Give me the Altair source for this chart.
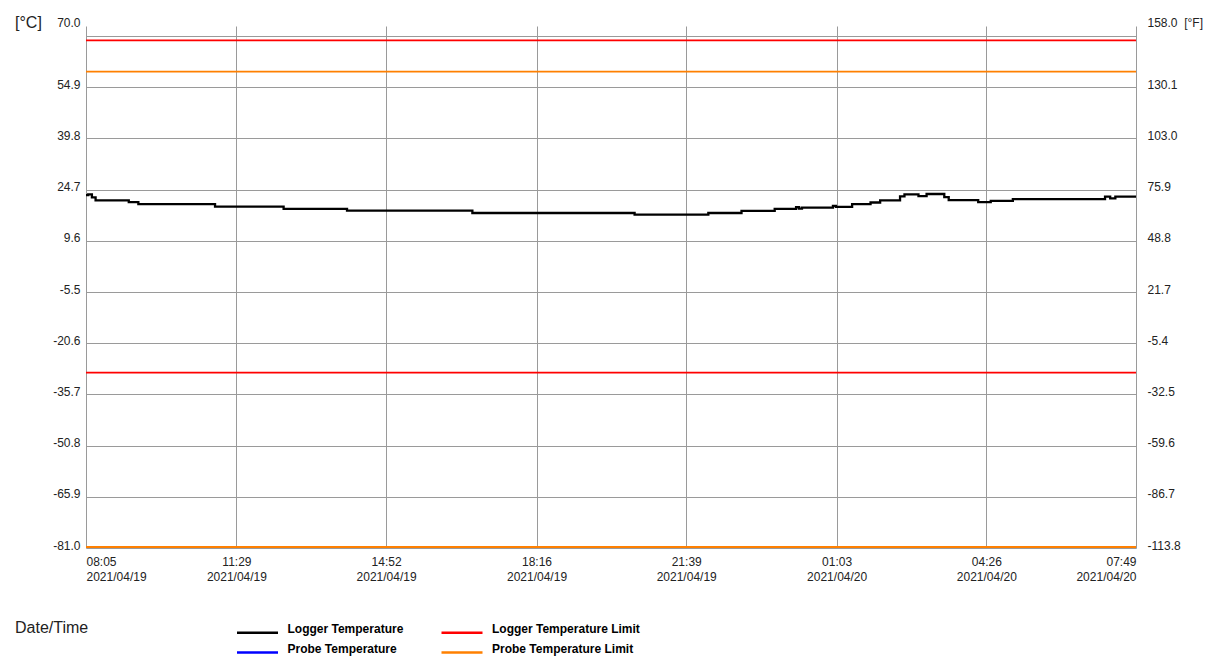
import json
import altair as alt
import pandas as pd

# ---------------- data ----------------
times = [
    "2021-04-19T08:05", "2021-04-19T08:08", "2021-04-19T08:13", "2021-04-19T08:18",
    "2021-04-19T09:03", "2021-04-19T09:16", "2021-04-19T11:00", "2021-04-19T12:33",
    "2021-04-19T13:59", "2021-04-19T16:49", "2021-04-19T20:29", "2021-04-19T22:09",
    "2021-04-19T22:54", "2021-04-19T23:39", "2021-04-20T00:08", "2021-04-20T00:12",
    "2021-04-20T00:16", "2021-04-20T00:58", "2021-04-20T01:02", "2021-04-20T01:24",
    "2021-04-20T01:49", "2021-04-20T02:02", "2021-04-20T02:29", "2021-04-20T02:35",
    "2021-04-20T02:54", "2021-04-20T03:05", "2021-04-20T03:29", "2021-04-20T03:35",
    "2021-04-20T04:15", "2021-04-20T04:32", "2021-04-20T05:02", "2021-04-20T07:07",
    "2021-04-20T07:14", "2021-04-20T07:21", "2021-04-20T07:49",
]
temps = [
    23.1, 23.3, 22.4, 21.5, 21.0, 20.4, 19.7, 19.0, 18.5, 17.8, 17.3, 17.8,
    18.4, 19.0, 19.5, 19.1, 19.4, 19.9, 19.6, 20.4, 20.9, 21.5, 22.7, 23.3,
    22.8, 23.4, 22.5, 21.6, 21.0, 21.4, 21.9, 22.6, 22.1, 22.6, 22.6,
]

limit_series = ["Logger Temperature Limit", "Logger Temperature Limit",
                "Probe Temperature Limit", "Probe Temperature Limit"]
limit_values = [68.7, -29.3, 59.5, -80.7]

# legend is laid out column by column
series_names = ["Logger Temperature", "Probe Temperature",
                "Logger Temperature Limit", "Probe Temperature Limit"]
series_colors = ["#000000", "#0000ff", "#ff0000", "#ff8000"]

x_ticks = ["2021-04-19T08:05", "2021-04-19T11:29", "2021-04-19T14:52", "2021-04-19T18:16",
           "2021-04-19T21:39", "2021-04-20T01:03", "2021-04-20T04:26", "2021-04-20T07:49"]

c_ticks = [70.0, 54.9, 39.8, 24.7, 9.6, -5.5, -20.6, -35.7, -50.8, -65.9, -81.0]
c_labels = ["70.0", "54.9", "39.8", "24.7", "9.6", "-5.5", "-20.6", "-35.7",
            "-50.8", "-65.9", "-81.0"]
f_labels = ["158.0\u00a0\u00a0[°F]", "130.1", "103.0", "75.9", "48.8", "21.7",
            "-5.4", "-32.5", "-59.6", "-86.7", "-113.8"]

# ---------------- helpers ----------------
def to_dt(s):
    d, t = s.split("T")
    y, m, dd = (int(v) for v in d.split("-"))
    hh, mm = (int(v) for v in t.split(":"))
    return alt.DateTime(year=y, month=m, date=dd, hours=hh, minutes=mm)


def lookup_expr(labels):
    return ("[" + ",".join(json.dumps(s, ensure_ascii=False) for s in labels) + "][indexof(["
            + ",".join(repr(v) for v in c_ticks) + "], datum.value)]")


line_df = pd.DataFrame({"time": times, "value": temps,
                        "series": ["Logger Temperature"] * len(times)})
limit_df = pd.DataFrame({"value": limit_values, "series": limit_series})

FONT = "Liberation Sans"
GRID = "#9a9a9a"
TXT = "#222222"

y_domain = [-81.0, 72.95]
label_off = {"condition": {"test": "datum.value >= 70", "value": -14}, "value": -3}

x_expr = ("[timeFormat(datum.value, '%H:%M') + ((datum.index > 0 && datum.index < 1) ? '\u00a0\u00a0\u00a0' : ''), "
          "timeFormat(datum.value, '%Y/%m/%d')]")

legend = alt.Legend(
    title=None, orient="none", legendX=165, legendY=600, columns=2,
    symbolType="M-4.1,0H4.1", symbolSize=100, symbolStrokeWidth=2.5, labelOffset=23.5,
    columnPadding=32.5, rowPadding=4, padding=0,
    labelFont=FONT, labelFontSize=12, labelFontWeight="bold", labelColor="#000000",
    labelBaseline="alphabetic", labelLimit=300,
)

color_enc = alt.Color("series:N", scale=alt.Scale(domain=series_names, range=series_colors),
                      legend=legend)

x_axis = alt.Axis(
    values=[to_dt(s) for s in x_ticks], grid=True, gridColor=GRID, gridWidth=1,
    domain=False, ticks=False, labelFlush=True, labelOverlap=False,
    labelExpr=x_expr, labelPadding=8, labelBaseline="top", labelLineHeight=15,
    labelFont=FONT, labelFontSize=12, labelColor=TXT,
    title="Date/Time", titleX=-71.5, titleY=79, titleAlign="left", titleBaseline="middle",
    titleFont=FONT, titleFontSize=16, titleFontWeight="normal", titleColor=TXT,
)

left_axis = alt.Axis(
    values=c_ticks, orient="left", grid=True, gridColor=GRID, gridWidth=1,
    domain=False, ticks=False, labelPadding=6, labelFont=FONT, labelFontSize=12,
    labelColor=TXT, labelBaseline="middle", labelOffset=label_off,
    labelExpr=lookup_expr(c_labels),
    title="[°C]", titleAngle=0, titleAlign="left", titleBaseline="middle",
    titleX=-71.5, titleY=-4, titleFont=FONT, titleFontSize=16, titleFontWeight="normal",
    titleColor=TXT,
)

right_axis = alt.Axis(
    values=c_ticks, orient="right", grid=False, domain=False, ticks=False,
    labelPadding=11, labelFont=FONT, labelFontSize=12, labelColor=TXT,
    labelBaseline="middle", labelOffset=label_off, labelExpr=lookup_expr(f_labels),
    title=None,
)

line = alt.Chart(line_df).mark_line(interpolate="step-after", strokeWidth=2.3).encode(
    x=alt.X("time:T", scale=alt.Scale(domain=[to_dt(times[0]), to_dt(times[-1])], nice=False),
            axis=x_axis),
    y=alt.Y("value:Q", scale=alt.Scale(domain=y_domain, nice=False, zero=False), axis=left_axis),
    color=color_enc,
)

rules = alt.Chart(limit_df).mark_rule(strokeWidth=1.8).encode(
    y=alt.Y("value:Q", scale=alt.Scale(domain=y_domain, nice=False, zero=False), axis=right_axis),
    color=color_enc,
)

chart = alt.layer(line, rules).resolve_scale(y="independent").properties(
    width=1050, height=522,
    autosize=alt.AutoSizeParams(type="none"),
    padding={"left": 78, "top": 18, "right": 77, "bottom": 108},
    background="#ffffff",
).configure(font=FONT).configure_view(stroke=None)

chart.save("out.html", embed_options={"renderer": "svg", "actions": False})
